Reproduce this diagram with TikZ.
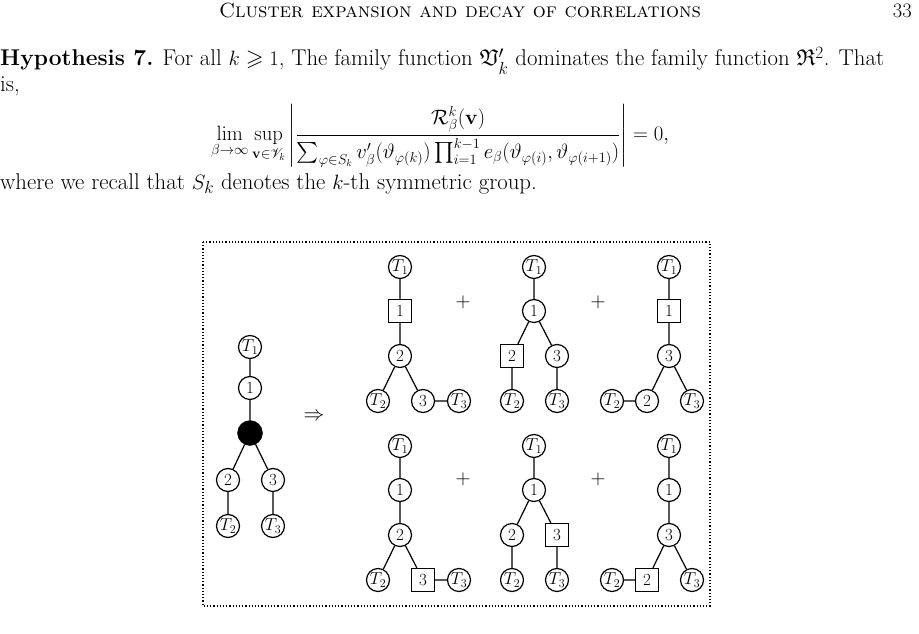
\documentclass[tikz,border=0pt]{standalone}
\usepackage{amsmath,amssymb,mathrsfs}
\begin{document}
\begin{tikzpicture}[x=1pt,y=-1pt,
  every node/.style={font=\fontsize{22.8}{27}\selectfont},
  c/.style={circle,draw,line width=1.2pt,minimum size=23pt,inner sep=0pt,font=\fontsize{17}{20}\selectfont},
  s/.style={rectangle,draw,line width=1.2pt,minimum size=23pt,inner sep=0pt,font=\fontsize{17}{20}\selectfont},
  b/.style={circle,draw,fill=black,minimum size=25pt,inner sep=0pt},
  e/.style={line width=1.2pt},
  tx/.style={anchor=base west,inner sep=0pt}]
\useasboundingbox (0,0) rectangle (919,634);
% header
\node[anchor=base,inner sep=0pt,font=\fontsize{20.5}{24}\selectfont] (hd) at (460,18) {\textsc{Cluster expansion and decay of correlations}};
\node[anchor=base east,inner sep=0pt,font=\fontsize{20.5}{24}\selectfont] (pg) at (912,18) {33};
\node[tx] (h1) at (0,66) {\textbf{Hypothesis 7.} For all $k\geqslant 1$, The family function $\mathfrak{V}'_k$ dominates the family function $\mathfrak{R}^2$. That};
\node[tx] (h2) at (0,92) {is,};
\node[inner sep=0pt,font=\fontsize{20.8}{25}\selectfont] (fm) at (440,136) {$\displaystyle \lim_{\beta\to\infty}\sup_{\mathbf{v}\in\mathscr{V}_k}\left|\frac{\mathcal{R}^k_\beta(\mathbf{v})}{\sum_{\varphi\in S_k} v'_\beta(\vartheta_{\varphi(k)})\prod_{i=1}^{k-1}e_\beta(\vartheta_{\varphi(i)},\vartheta_{\varphi(i+1)})}\right| = 0,$};
\node[tx] (h3) at (0,189) {where we recall that $S_k$ denotes the $k$-th symmetric group.};
% box
\draw[dotted,line width=1.2pt] (203,242) rectangle (710,606);
% left tree
\node[c] (l0) at (250,347) {$T_1$};
\node[c] (l1) at (250,388) {1};
\node[b] (lb) at (250,433) {};
\node[c] (l2) at (228,480) {2};
\node[c] (l3) at (273,480) {3};
\node[c] (lt2) at (228,526) {$T_2$};
\node[c] (lt3) at (273,526) {$T_3$};
\draw[e] (l0)--(l1) (l1)--(lb) (lb)--(l2) (lb)--(l3) (l2)--(lt2) (l3)--(lt3);
\node (imp) at (314,417) {$\Rightarrow$};
% tree A
\node[c] (a0) at (400,267) {$T_1$};
\node[s] (a1) at (400,311) {1};
\node[c] (a2) at (400,356) {2};
\node[c] (at2) at (378,401) {$T_2$};
\node[c] (a3) at (423,401) {3};
\node[c] (at3) at (459,401) {$T_3$};
\draw[e] (a0)--(a1) (a1)--(a2) (a2)--(at2) (a2)--(a3) (a3)--(at3);
\node (p1) at (463,302) {$+$};
% tree B
\node[c] (b0) at (534,267) {$T_1$};
\node[c] (b1) at (534,311) {1};
\node[s] (b2) at (512,356) {2};
\node[c] (b3) at (557,356) {3};
\node[c] (bt2) at (512,401) {$T_2$};
\node[c] (bt3) at (557,401) {$T_3$};
\draw[e] (b0)--(b1) (b1)--(b2) (b1)--(b3) (b2)--(bt2) (b3)--(bt3);
\node (p2) at (598,302) {$+$};
% tree C
\node[c] (c0) at (669,267) {$T_1$};
\node[s] (c1) at (669,311) {1};
\node[c] (c3) at (669,356) {3};
\node[c] (ct2) at (612,401) {$T_2$};
\node[c] (c2) at (647,401) {2};
\node[c] (ct3) at (692,401) {$T_3$};
\draw[e] (c0)--(c1) (c1)--(c3) (c3)--(c2) (c3)--(ct3) (c2)--(ct2);
% tree D
\node[c] (d0) at (400,446) {$T_1$};
\node[c] (d1) at (400,490) {1};
\node[c] (d2) at (400,535) {2};
\node[c] (dt2) at (378,580) {$T_2$};
\node[s] (d3) at (423,580) {3};
\node[c] (dt3) at (459,580) {$T_3$};
\draw[e] (d0)--(d1) (d1)--(d2) (d2)--(dt2) (d2)--(d3) (d3)--(dt3);
\node (p3) at (463,479) {$+$};
% tree E
\node[c] (e0) at (534,446) {$T_1$};
\node[c] (e1) at (534,490) {1};
\node[c] (e2) at (512,535) {2};
\node[s] (e3) at (557,535) {3};
\node[c] (et2) at (512,580) {$T_2$};
\node[c] (et3) at (557,580) {$T_3$};
\draw[e] (e0)--(e1) (e1)--(e2) (e1)--(e3) (e2)--(et2) (e3)--(et3);
\node (p4) at (598,479) {$+$};
% tree F
\node[c] (f0) at (669,446) {$T_1$};
\node[c] (f1) at (669,490) {1};
\node[c] (f3) at (669,535) {3};
\node[c] (ft2) at (612,580) {$T_2$};
\node[s] (f2) at (647,580) {2};
\node[c] (ft3) at (692,580) {$T_3$};
\draw[e] (f0)--(f1) (f1)--(f3) (f3)--(f2) (f3)--(ft3) (f2)--(ft2);
\end{tikzpicture}
\end{document}
